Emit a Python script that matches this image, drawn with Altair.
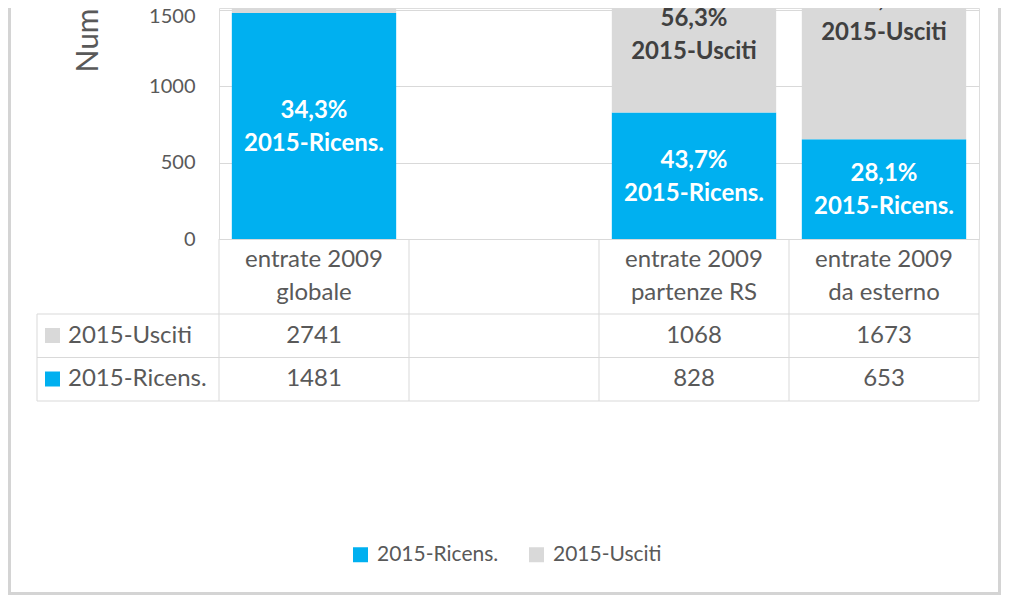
import altair as alt
import pandas as pd

# ---------------- data ----------------
categories = ["entrate 2009\nglobale", " ", "entrate 2009\npartenze RS", "entrate 2009\nda esterno"]
series = ["2015-Ricens.", "2015-Usciti"]
ricens = [1481, None, 828, 653]
usciti = [2741, None, 1068, 1673]
pct_ricens = ["34,3%", "", "43,7%", "28,1%"]
pct_usciti = ["65,7%", "", "56,3%", "71,9%"]
y_ticks = [0, 500, 1000, 1500]
y_title = "Numero"
colors = ["#00b0f0", "#d9d9d9"]

rows = []
for i, c in enumerate(categories):
    rows.append({"category": c, "series": series[0], "value": ricens[i], "pct": pct_ricens[i], "order": 0})
    rows.append({"category": c, "series": series[1], "value": usciti[i], "pct": pct_usciti[i], "order": 1})
df = pd.DataFrame(rows)

# ---------------- styling ----------------
FONT = "Lato"
TXT = "#595959"
GRID = "#d9d9d9"
W, H = 760, 231

xs = alt.Scale(domain=categories, paddingInner=0, paddingOuter=0)
ys = alt.Scale(domain=[0, 1513], nice=False, zero=True)
cs = alt.Scale(domain=series, range=colors)

X = alt.X("category:N", scale=xs, axis=None)

y_axis = alt.Axis(
    values=y_ticks, format="d", title=y_title, titleFont=FONT, titleFontSize=30, titleColor=TXT,
    titleFontWeight="normal", titleAngle=270, titleAlign="left", titleBaseline="alphabetic",
    titleX=-122, titleY=64, labelFont=FONT, labelFontSize=20, labelColor=TXT,
    labelOffset=alt.condition("datum.value >= 1500", alt.value(7), alt.value(0)),
    labelPadding=24, ticks=False, tickSize=0, domain=False, grid=True, gridColor=GRID,
)

base = alt.Chart(df)

stacked = base.transform_filter("isValid(datum.value)").transform_stack(
    stack="value", groupby=["category"], as_=["y0", "y1"], sort=[alt.SortField("order")]
).transform_calculate(mid="(datum.y0 + datum.y1) / 2", lab="datum.pct + '\\n' + datum.series")

bars = stacked.mark_bar(width=alt.RelativeBandSize(0.865)).encode(
    x=X,
    y=alt.Y("y0:Q", scale=ys, axis=y_axis),
    y2="y1:Q",
    color=alt.Color(
        "series:N", scale=cs,
        legend=alt.Legend(
            orient="none", legendX=131, legendY=536, direction="horizontal", title=None,
            symbolType="square", symbolSize=225, symbolStrokeWidth=0, labelFont=FONT,
            labelFontSize=21, labelColor=TXT, columnPadding=27, labelOffset=6,
        ),
    ),
)


def seg_labels(s, color, dy):
    return stacked.transform_filter(alt.datum.series == s).mark_text(
        font=FONT, fontWeight="bold", fontSize=24, lineBreak="\n", lineHeight=33,
        baseline="middle", align="center", dy=dy, color=color,
    ).encode(
        x=X,
        y=alt.Y("mid:Q", scale=ys, axis=y_axis),
        text="lab:N",
    )


# ---------------- data table ----------------
first_series = base.transform_filter(alt.datum.series == series[0])

header = first_series.mark_text(
    font=FONT, fontSize=24, color=TXT, lineBreak="\n", lineHeight=33, baseline="middle", align="center"
).encode(x=X, y=alt.value(252), text="category:N")


def value_row(s, ypos):
    return base.transform_filter(alt.datum.series == s).transform_filter("isValid(datum.value)").mark_text(
        font=FONT, fontSize=24, color=TXT, baseline="middle", align="center"
    ).encode(x=X, y=alt.value(ypos), text=alt.Text("value:Q", format="d"))


def row_label(s, ypos):
    sub = base.transform_filter(alt.datum.series == s).transform_filter(alt.datum.category == categories[0])
    txt = sub.mark_text(font=FONT, fontSize=24, color=TXT, baseline="middle", align="left").encode(
        x=alt.value(-151), y=alt.value(ypos), text="series:N"
    )
    sq = sub.mark_square(size=225, opacity=1).encode(
        x=alt.value(-166.5), y=alt.value(ypos), color=alt.Color("series:N", scale=cs)
    )
    return txt + sq


one = alt.Chart(pd.DataFrame({"k": [0]}))


def hline(ypos, x0, x1):
    return one.mark_rule(color=GRID, strokeWidth=1).encode(
        x=alt.value(x0), x2=alt.value(x1), y=alt.value(ypos)
    )


col_lines = first_series.mark_rule(color=GRID, strokeWidth=1).encode(
    x=alt.X("category:N", scale=xs, axis=None, bandPosition=0), y=alt.value(231), y2=alt.value(393)
)
last_line = first_series.transform_filter(alt.datum.category == categories[-1]).mark_rule(
    color=GRID, strokeWidth=1
).encode(x=alt.X("category:N", scale=xs, axis=None, bandPosition=1), y=alt.value(231), y2=alt.value(393))
left_line = one.mark_rule(color=GRID, strokeWidth=1).encode(
    x=alt.value(-182), y=alt.value(306), y2=alt.value(393)
)

border = one.mark_rect(fillOpacity=0, stroke="#d4d4d4", strokeWidth=3).encode(
    x=alt.value(-209.5), x2=alt.value(780.5), y=alt.value(-10), y2=alt.value(585.5)
)

chart = alt.layer(
    bars,
    seg_labels(series[0], "white", -15),
    seg_labels(series[1], "#404040", -12),
    header,
    value_row(series[1], 327.5), value_row(series[0], 371),
    row_label(series[1], 327.5), row_label(series[0], 371),
    hline(306, -182, W), hline(349.5, -182, W), hline(393, -182, W),
    col_lines, last_line, left_line, border,
).properties(
    width=W, height=H,
    autosize=alt.AutoSizeParams(type="none"),
    padding={"left": 211, "top": 0, "right": 22, "bottom": 357},
    background="white",
).configure_view(stroke=None).configure(font=FONT)

chart.save("out.html", embed_options={"renderer": "svg", "actions": False})
